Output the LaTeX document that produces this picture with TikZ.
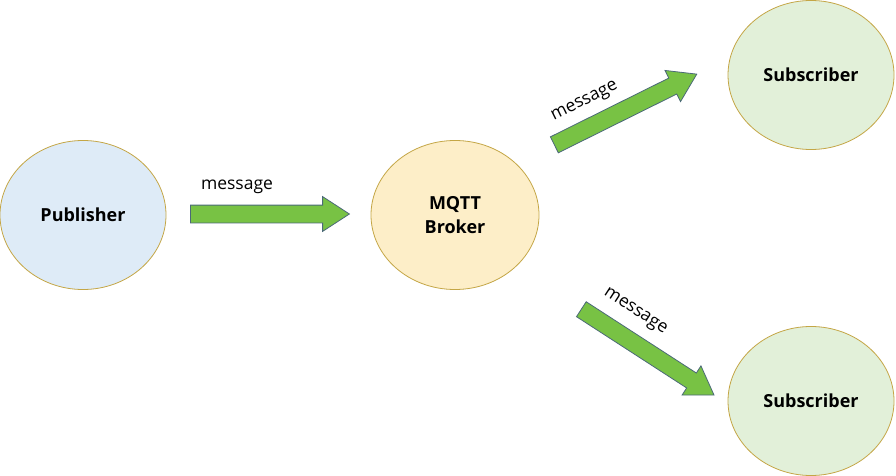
\documentclass[tikz,border=0pt]{standalone}
\usepackage{fontspec}
\setmainfont{Open Sans}
\usetikzlibrary{shapes.arrows,shapes.geometric}
\definecolor{pubfill}{RGB}{222,235,247}
\definecolor{brokerfill}{RGB}{253,238,200}
\definecolor{subfill}{RGB}{226,240,217}
\definecolor{rimgold}{RGB}{196,166,70}
\definecolor{arrowgreen}{RGB}{120,194,68}
\definecolor{arrowrim}{RGB}{75,105,120}
\tikzset{
  party/.style={ellipse,draw=rimgold,line width=0.8pt,minimum width=166pt,minimum height=149pt,
    font=\fontsize{18}{24}\selectfont\bfseries,align=center},
  msgarrow/.style={single arrow,draw=arrowrim,fill=arrowgreen,line width=0.8pt,anchor=tail,
    inner xsep=0pt,inner ysep=8.5pt,minimum height=159pt,single arrow head extend=8.5pt,
    single arrow tip angle=66},
  msglabel/.style={font=\fontsize{17.5}{20}\selectfont}
}
\begin{document}
\begin{tikzpicture}[x=1pt,y=-1pt]
\useasboundingbox (0,0) rectangle (896,476);
% parties
\node[party,fill=pubfill] (pub) at (83,215) {Publisher};
\node[party,fill=brokerfill,minimum width=168pt] (broker) at (455,215) {MQTT\\Broker};
\node[party,fill=subfill] (subA) at (811,75) {Subscriber};
\node[party,fill=subfill] (subB) at (811,401) {Subscriber};
% message arrows (placed by their tails)
\node[msgarrow] (msgA) at (190,214) {};
\node[msgarrow,rotate=26.4] (msgB) at (554,145) {};
\node[msgarrow,rotate=-32.9,minimum height=158pt] (msgC) at (581,309) {};
\node[msglabel] (lblA) at (237,187) {message};
\node[msglabel,rotate=26.4] (lblB) at (585,102) {message};
\node[msglabel,rotate=-32.9] (lblC) at (635,312) {message};
\end{tikzpicture}
\end{document}
